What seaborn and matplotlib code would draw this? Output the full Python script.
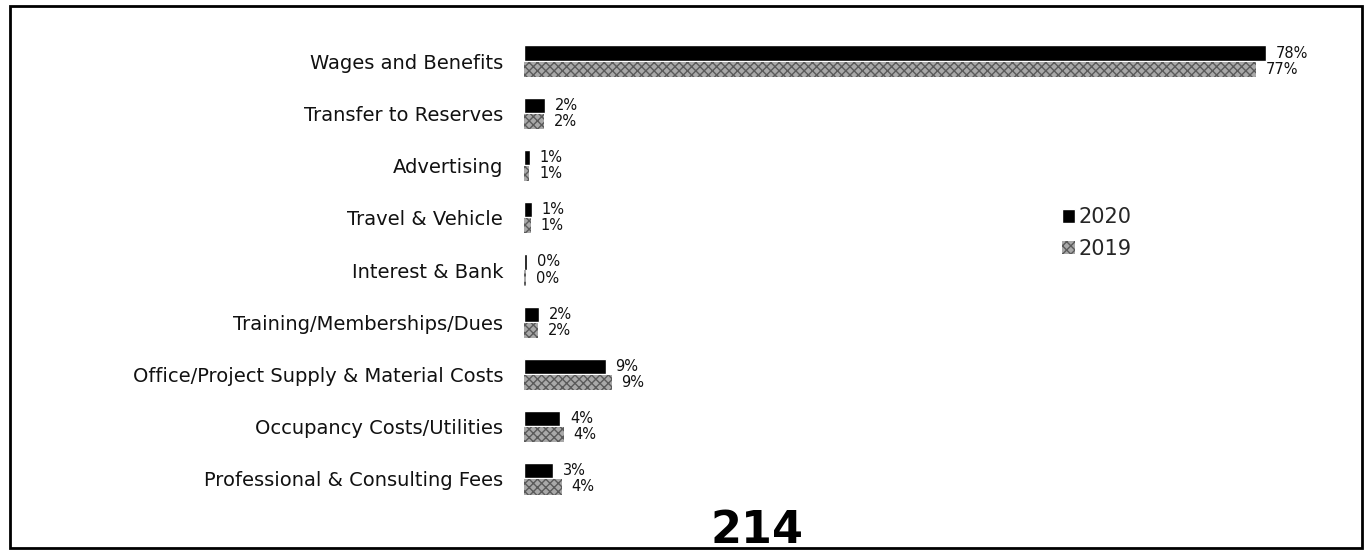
import matplotlib
matplotlib.use("Agg")
import matplotlib.pyplot as plt
from matplotlib.patches import Rectangle
import pandas as pd
import seaborn as sns

categories = [
    "Wages and Benefits",
    "Transfer to Reserves",
    "Advertising",
    "Travel & Vehicle",
    "Interest & Bank",
    "Training/Memberships/Dues",
    "Office/Project Supply & Material Costs",
    "Occupancy Costs/Utilities",
    "Professional & Consulting Fees",
]
years = ["2020", "2019"]
share_2020 = [78.0, 2.2, 0.6, 0.8, 0.3, 1.6, 8.6, 3.8, 3.1]
share_2019 = [77.0, 2.1, 0.55, 0.7, 0.2, 1.5, 9.2, 4.2, 4.0]
page_number = "214"

df = pd.DataFrame({
    "category": categories * 2,
    "year": [years[0]] * len(categories) + [years[1]] * len(categories),
    "share": share_2020 + share_2019,
})

sns.set_theme(style="white")
plt.rcParams["font.family"] = ["DejaVu Sans"]

W, H = 1367, 554
fig = plt.figure(figsize=(W / 100, H / 100), dpi=100)
ax = fig.add_axes([524 / W, 1 - 505 / H, 761 / W, 470 / H])

sns.barplot(
    data=df, y="category", x="share", hue="year", order=categories,
    hue_order=years, orient="h", palette={"2020": "#000000", "2019": "#a8a8a8"},
    width=0.62, gap=0.06, legend=False, ax=ax, saturation=1,
)

# speckled fill for the 2019 series
for bar in ax.containers[1]:
    bar.set_hatch("xxxx")
    bar.set_edgecolor("#5a5a5a")
    bar.set_linewidth(0)

for cont in ax.containers:
    for bar in cont:
        v = bar.get_width()
        ax.annotate(f"{round(v + 1e-9):.0f}%",
                    (v, bar.get_y() + bar.get_height() / 2),
                    xytext=(7, 0), textcoords="offset points",
                    va="center", ha="left", fontsize=10.5, color="#111111")

ax.set_xlim(0, 80)
ax.set_xlabel("")
ax.set_ylabel("")
ax.set_xticks([])
ax.tick_params(axis="y", length=0, pad=15, labelsize=14, labelcolor="#111111")
for s in ax.spines.values():
    s.set_visible(False)

handles = [ax.containers[0][0], ax.containers[1][0]]
fig.legend(handles, years, loc="upper left", bbox_to_anchor=(1052 / W, 1 - 197 / H),
           frameon=False, fontsize=15, handlelength=0.6, handleheight=0.6,
           handletextpad=0.15, labelspacing=0.55, borderpad=0)

# page frame
fig.patches.append(Rectangle((10 / W, 6 / H), 1352 / W, 542 / H,
                             transform=fig.transFigure, fill=False,
                             edgecolor="black", linewidth=2))

fig.text(757 / W, 2 / H, page_number, fontsize=32, fontweight="bold",
         ha="center", va="bottom", color="black")

fig.savefig("out.png", dpi=100)
